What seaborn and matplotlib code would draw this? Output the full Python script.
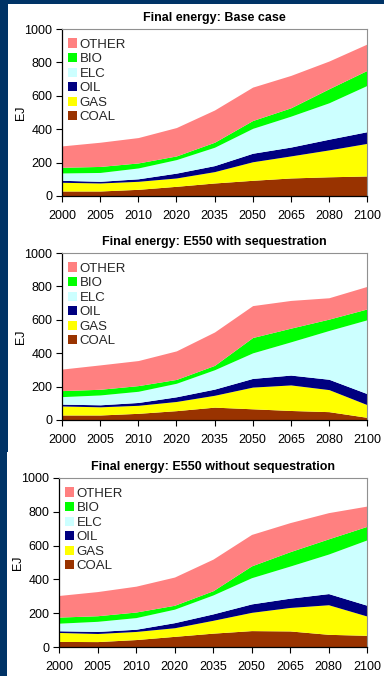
import numpy as np
import pandas as pd
import matplotlib
matplotlib.use("Agg")
import matplotlib.pyplot as plt
import seaborn as sns
from matplotlib.patches import Rectangle, Patch

# ---------------- data ----------------
years = ["2000", "2005", "2010", "2020", "2035", "2050", "2065", "2080", "2100"]
series = ["COAL", "GAS", "OIL", "ELC", "BIO", "OTHER"]
colors = ["#993300", "#FFFF00", "#000080", "#CCFFFF", "#00FF00", "#FF8080"]

titles = ["Final energy: Base case",
          "Final energy: E550 with sequestration",
          "Final energy: E550 without sequestration"]

# Base case (EJ, layer thickness)
base_coal = [30, 30, 40, 58, 78, 94, 108, 115, 120]
base_gas = [52, 48, 48, 50, 68, 111, 132, 161, 195]
base_oil = [12, 10, 15, 29, 36, 51, 53, 64, 70]
base_elc = [44, 53, 65, 81, 110, 149, 185, 218, 277]
base_bio = [34, 36, 30, 22, 30, 47, 50, 84, 90]
base_other = [128, 145, 152, 170, 193, 200, 194, 166, 158]

# E550 with sequestration
seq_coal = [30, 30, 40, 56, 77, 67, 57, 50, 16]
seq_gas = [54, 49, 48, 55, 71, 130, 153, 132, 76]
seq_oil = [11, 12, 17, 28, 37, 52, 59, 62, 66]
seq_elc = [45, 59, 67, 81, 116, 153, 199, 292, 442]
seq_bio = [36, 34, 34, 23, 26, 92, 82, 68, 65]
seq_other = [129, 146, 150, 171, 200, 191, 166, 128, 135]

# E550 without sequestration
noseq_coal = [33, 32, 44, 63, 82, 97, 95, 75, 69]
noseq_gas = [53, 48, 48, 51, 76, 108, 139, 175, 114]
noseq_oil = [10, 12, 13, 30, 38, 50, 55, 66, 64]
noseq_elc = [45, 60, 69, 80, 112, 155, 190, 234, 387]
noseq_bio = [36, 33, 33, 23, 25, 70, 85, 90, 80]
noseq_other = [128, 143, 153, 167, 187, 186, 172, 155, 120]

yticks = [0, 200, 400, 600, 800, 1000]

frames = [
    pd.DataFrame(dict(zip(series, [base_coal, base_gas, base_oil, base_elc, base_bio, base_other])), index=years),
    pd.DataFrame(dict(zip(series, [seq_coal, seq_gas, seq_oil, seq_elc, seq_bio, seq_other])), index=years),
    pd.DataFrame(dict(zip(series, [noseq_coal, noseq_gas, noseq_oil, noseq_elc, noseq_bio, noseq_other])), index=years),
]

# ---------------- style ----------------
sns.set_theme(style="white")
plt.rcParams['font.family'] = ['Liberation Sans', 'DejaVu Sans']
palette = sns.color_palette(colors)

W, H = 384, 676
fig = plt.figure(figsize=(W / 100, H / 100), dpi=100, facecolor="#003366")

# white slide panels (behind the axes)
fig.patches.append(Rectangle((8 / W, (H - 452) / H), (W - 8) / W, (452 - 4) / H,
                             transform=fig.transFigure, facecolor="white",
                             edgecolor="none", zorder=-10))
fig.patches.append(Rectangle((7 / W, 0), (W - 7) / W, (H - 452) / H,
                             transform=fig.transFigure, facecolor="white",
                             edgecolor="none", zorder=-10))

# axes boxes in pixels: left, top, right, bottom
boxes = [(62, 29, 367, 196), (62, 253, 367, 420), (59, 478, 367, 647)]

for df, title, (l, t, r, b) in zip(frames, titles, boxes):
    ax = fig.add_axes([l / W, 1 - b / H, (r - l) / W, (b - t) / H])
    ax.set_zorder(5)
    ax.set_facecolor("white")
    x = np.arange(len(years))
    ax.stackplot(x, *[df[s].values for s in series], colors=palette,
                 labels=series, linewidth=0)
    ax.set_xlim(0, len(years) - 1)
    ax.set_ylim(0, 1000)
    ax.set_xticks(x)
    ax.set_xticklabels(years, fontsize=9)
    ax.set_yticks(yticks)
    ax.set_yticklabels([str(v) for v in yticks], fontsize=9)
    ax.tick_params(axis="both", which="major", direction="out", length=4,
                   width=0.8, color="black", pad=3, bottom=True, left=True,
                   labelcolor="black")
    ax.tick_params(axis="x", pad=6)
    for side in ("left", "bottom"):
        ax.spines[side].set_color("black")
        ax.spines[side].set_linewidth(0.9)
    for side in ("top", "right"):
        ax.spines[side].set_color("#909090")
        ax.spines[side].set_linewidth(0.8)
    ax.set_title(title, fontsize=9, fontweight="bold", pad=6, color="black")
    ax.set_ylabel("EJ", fontsize=9, color="black")
    ax.yaxis.set_label_coords(-0.115, 0.5)
    handles = [Patch(facecolor=c, edgecolor="none") for c in colors]
    ax.legend(handles[::-1], series[::-1], loc="upper left",
              bbox_to_anchor=(6 / (r - l), 1 - 9.5 / (b - t)), frameon=False,
              fontsize=9.5, handlelength=0.68, handleheight=0.68,
              handletextpad=0.2, labelspacing=0.18, borderaxespad=0,
              borderpad=0)

fig.savefig("out.png", dpi=100, facecolor=fig.get_facecolor())
